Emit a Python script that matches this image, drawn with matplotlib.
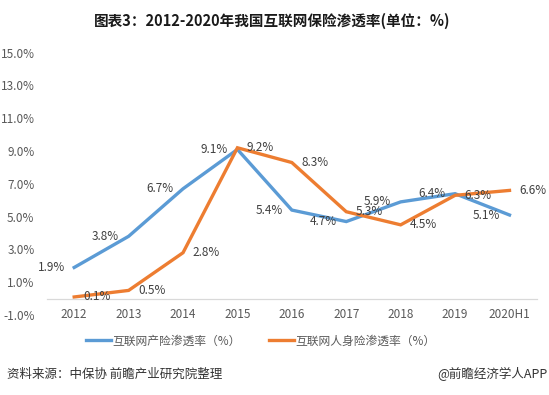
import matplotlib
matplotlib.use('Agg')
import matplotlib.pyplot as plt
from matplotlib.ticker import FuncFormatter

plt.rcParams['font.family'] = ['Noto Sans CJK SC', 'DejaVu Sans']

# data
years = ['2012', '2013', '2014', '2015', '2016', '2017', '2018', '2019', '2020H1']
property_rate = [1.9, 3.8, 6.7, 9.1, 5.4, 4.7, 5.9, 6.4, 5.1]
life_rate = [0.1, 0.5, 2.8, 9.2, 8.3, 5.3, 4.5, 6.3, 6.6]
y_ticks = [-1, 1, 3, 5, 7, 9, 11, 13, 15]

blue = '#5B9BD5'
orange = '#ED7D31'
label_color = '#404040'
tick_color = '#595959'

fig = plt.figure(figsize=(5.49, 3.95), dpi=100)
ax = fig.add_axes([0.0856, 0.2025, 0.892, 0.6641])

x = list(range(len(years)))
ax.plot(x, property_rate, color=blue, lw=2.4, label='互联网产险渗透率（%）', solid_joinstyle='miter')
ax.plot(x, life_rate, color=orange, lw=2.4, label='互联网人身险渗透率（%）', solid_joinstyle='miter')

# data labels: blue to the left, orange to the right
for i, v in enumerate(property_rate):
    ax.annotate(f'{v:.1f}%', (i, v), xytext=(-23, 0), textcoords='offset pixels',
                ha='center', va='center', fontsize=8.5, color=label_color)
for i, v in enumerate(life_rate):
    ax.annotate(f'{v:.1f}%', (i, v), xytext=(23, 0), textcoords='offset pixels',
                ha='center', va='center', fontsize=8.5, color=label_color)

ax.set_xlim(-0.5, len(years) - 0.5)
ax.set_ylim(-1, 15)
ax.set_yticks(y_ticks)
ax.yaxis.set_major_formatter(FuncFormatter(lambda v, p: f'{v:.1f}%'))
ax.set_xticks(x)
ax.set_xticklabels(years)

for s in ['top', 'right', 'left']:
    ax.spines[s].set_visible(False)
ax.spines['bottom'].set_position(('data', 0))
ax.spines['bottom'].set_color('#D9D9D9')
ax.spines['bottom'].set_linewidth(0.9)
ax.tick_params(axis='y', length=0, pad=9, labelsize=8.5, labelcolor=tick_color)
ax.tick_params(axis='x', length=0, pad=7, labelsize=8.5, labelcolor=tick_color)

fig.text(0.495, 0.948, '图表3：2012-2020年我国互联网保险渗透率(单位：%)',
         ha='center', va='center', fontsize=10.5, fontweight='bold', color='#1a1a1a')

fig.legend(loc='center', bbox_to_anchor=(0.475, 0.137), ncol=2, frameon=False,
           fontsize=8.5, handlelength=2.1, handletextpad=0.1, columnspacing=2.4,
           labelcolor=tick_color)

fig.text(0.013, 0.053, '资料来源：中保协 前瞻产业研究院整理', ha='left', va='center',
         fontsize=9, color='#333333')
fig.text(0.998, 0.053, '@前瞻经济学人APP', ha='right', va='center',
         fontsize=9, color='#333333')

fig.savefig('out.png', dpi=100)
